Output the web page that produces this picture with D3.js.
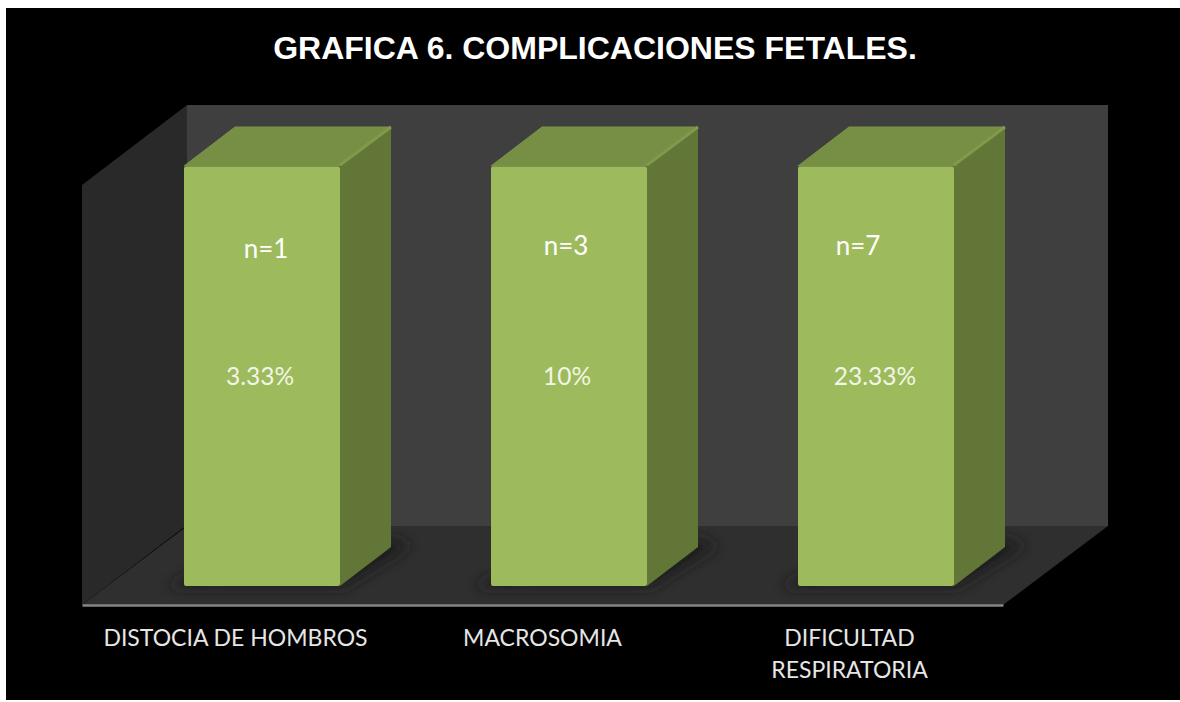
<!DOCTYPE html>
<html>
<head>
<meta charset="utf-8">
<script src="https://d3js.org/d3.v7.min.js"></script>
<style>
  html, body { margin: 0; padding: 0; background: #fff; overflow: hidden; }
  svg { display: block; }
  .title { font-family: "Liberation Sans", Arial, sans-serif; font-weight: bold; font-size: 32px; fill: #fff; }
  .count { font-family: Lato, sans-serif; font-size: 26px; }
  .percent { font-family: Lato, sans-serif; font-size: 24.5px; }
  .tick text { font-family: Lato, sans-serif; font-size: 23px; fill: #e6e6e6; }
</style>
</head>
<body>
<div id="chart"></div>
<script>
// data
var categories = ["DISTOCIA DE HOMBROS", "MACROSOMIA", "DIFICULTAD RESPIRATORIA"];
var barValues = [100, 100, 100];
var countLabels = ["n=1", "n=3", "n=7"];
var percentLabels = ["3.33%", "10%", "23.33%"];
var wrappedLabels = [["DISTOCIA DE HOMBROS"], ["MACROSOMIA"], ["DIFICULTAD", "RESPIRATORIA"]];

// set up chart
var svgWidth = 1180;
var svgHeight = 702;
var plot = {left: 82, right: 1003, bottom: 605, top: 185};
var depth = {x: 105, y: 80};      // walls
var barDepth = {x: 51, y: 39};    // bar sides
var barShift = {x: 26.5, y: 19};  // bars sit in the middle of the floor

var svg = d3.select("#chart")
  .append("svg")
  .attr("width", svgWidth)
  .attr("height", svgHeight);

svg.append("rect")
  .attr("x", 6)
  .attr("y", 8)
  .attr("width", svgWidth - 6)
  .attr("height", 692)
  .attr("fill", "#000");

var defs = svg.append("defs");
defs.append("filter")
  .attr("id", "floorShadow")
  .attr("x", "-30%").attr("y", "-30%")
  .attr("width", "160%").attr("height", "160%")
  .append("feGaussianBlur")
  .attr("stdDeviation", 7);

var xScale = d3.scaleBand()
  .domain(categories)
  .range([plot.left, plot.right])
  .paddingInner(151 / 307)
  .paddingOuter(151 / 614);

var yScale = d3.scaleLinear()
  .domain([0, 100])
  .range([plot.bottom - barShift.y, plot.top - barShift.y]);

function poly(points) {
  return points.map(p => p.join(",")).join(" ");
}

// back wall, left wall, floor
var backWall = [
  [plot.left + depth.x, plot.top - depth.y],
  [plot.right + depth.x, plot.top - depth.y],
  [plot.right + depth.x, plot.bottom - depth.y + 1],
  [plot.left + depth.x, plot.bottom - depth.y + 1]
];
var leftWall = [
  [plot.left, plot.top],
  [plot.left + depth.x, plot.top - depth.y],
  [plot.left + depth.x, plot.bottom - depth.y],
  [plot.left, plot.bottom]
];
var floor = [
  [plot.left, plot.bottom],
  [plot.left + depth.x, plot.bottom - depth.y + 1],
  [plot.right + depth.x, plot.bottom - depth.y + 1],
  [plot.right, plot.bottom]
];
svg.append("polygon").attr("points", poly(backWall)).attr("fill", "#3f3f3f");
svg.append("polygon").attr("points", poly(leftWall)).attr("fill", "#292929");
svg.append("polygon").attr("points", poly(floor)).attr("fill", "#2f2f2f");

// bars
var bars = svg.selectAll(".bar")
  .data(categories)
  .enter()
  .append("g")
  .attr("class", "bar");

var barLeft = d => xScale(d) + barShift.x;
var barRight = d => barLeft(d) + xScale.bandwidth();
var barTop = (d, i) => yScale(barValues[i]);
var barBottom = yScale(0);

// soft shadow on the floor
bars.append("polygon")
  .attr("points", (d, i) => poly([
    [barLeft(d) - 18, barBottom + 1],
    [barRight(d) + 4, barBottom + 1],
    [barRight(d) + barDepth.x + 20, barBottom - barDepth.y - 2],
    [barRight(d) + barDepth.x, barBottom - barDepth.y - 8],
    [barLeft(d), barBottom - 8]
  ]))
  .attr("fill", "#1f1f1f")
  .attr("filter", "url(#floorShadow)");

// side face
bars.append("polygon")
  .attr("points", (d, i) => poly([
    [barRight(d), barTop(d, i)],
    [barRight(d) + barDepth.x, barTop(d, i) - barDepth.y],
    [barRight(d) + barDepth.x, barBottom - barDepth.y],
    [barRight(d), barBottom]
  ]))
  .attr("fill", "#627637");

// top face
bars.append("polygon")
  .attr("points", (d, i) => poly([
    [barLeft(d), barTop(d, i)],
    [barLeft(d) + barDepth.x, barTop(d, i) - barDepth.y],
    [barRight(d) + barDepth.x, barTop(d, i) - barDepth.y],
    [barRight(d), barTop(d, i)]
  ]))
  .attr("fill", "#778f44")
  .attr("stroke", "#7a9446")
  .attr("stroke-width", 1)
  .attr("stroke-linejoin", "round");

// lighter edge running to the back corner
bars.append("line")
  .attr("x1", d => barRight(d))
  .attr("y1", (d, i) => barTop(d, i) - 1)
  .attr("x2", d => barRight(d) + barDepth.x)
  .attr("y2", (d, i) => barTop(d, i) - barDepth.y)
  .attr("stroke", "#7f9a4b")
  .attr("stroke-width", 3);

// front face
bars.append("rect")
  .attr("x", d => barLeft(d))
  .attr("y", (d, i) => barTop(d, i) + 0.5)
  .attr("width", xScale.bandwidth())
  .attr("height", (d, i) => barBottom - barTop(d, i) - 0.5)
  .attr("rx", 2)
  .attr("fill", "#9dbb5c");

// axis, its line is the front edge of the floor
var xAxis = d3.axisBottom(xScale).tickSize(0).tickPadding(0).tickFormat("");
var axisGroup = svg.append("g")
  .attr("transform", `translate(0, ${plot.bottom})`)
  .call(xAxis);
axisGroup.select(".domain")
  .attr("stroke", "#858585")
  .attr("stroke-width", 2.5);

axisGroup.selectAll(".tick text")
  .attr("y", 0)
  .attr("dy", 0)
  .each(function(d, i) {
    d3.select(this).selectAll("tspan")
      .data(wrappedLabels[i])
      .enter()
      .append("tspan")
      .attr("x", 0)
      .attr("y", (line, k) => 41 + k * 32)
      .text(line => line);
  });

// labels typed by hand on the bars in the original, so they sit a bit off centre
var countOffset = {x: [4, -3, -18], y: [92, 89, 89]};
var percentOffset = {x: [-2, -2, -1], y: [219, 219, 219]};

svg.selectAll(".count")
  .data(countLabels)
  .enter()
  .append("text")
  .attr("class", "count")
  .attr("text-anchor", "middle")
  .attr("fill", "#fff")
  .attr("x", (d, i) => barLeft(categories[i]) + xScale.bandwidth() / 2 + countOffset.x[i])
  .attr("y", (d, i) => barTop(categories[i], i) + countOffset.y[i])
  .text(d => d);

svg.selectAll(".percent")
  .data(percentLabels)
  .enter()
  .append("text")
  .attr("class", "percent")
  .attr("text-anchor", "middle")
  .attr("fill", "#f2f5e6")
  .attr("x", (d, i) => barLeft(categories[i]) + xScale.bandwidth() / 2 + percentOffset.x[i])
  .attr("y", (d, i) => barTop(categories[i], i) + percentOffset.y[i])
  .text(d => d);

// title
svg.append("text")
  .attr("class", "title")
  .attr("text-anchor", "middle")
  .attr("x", 595)
  .attr("y", 59)
  .text("GRAFICA 6. COMPLICACIONES FETALES.");
</script>
</body>
</html>
